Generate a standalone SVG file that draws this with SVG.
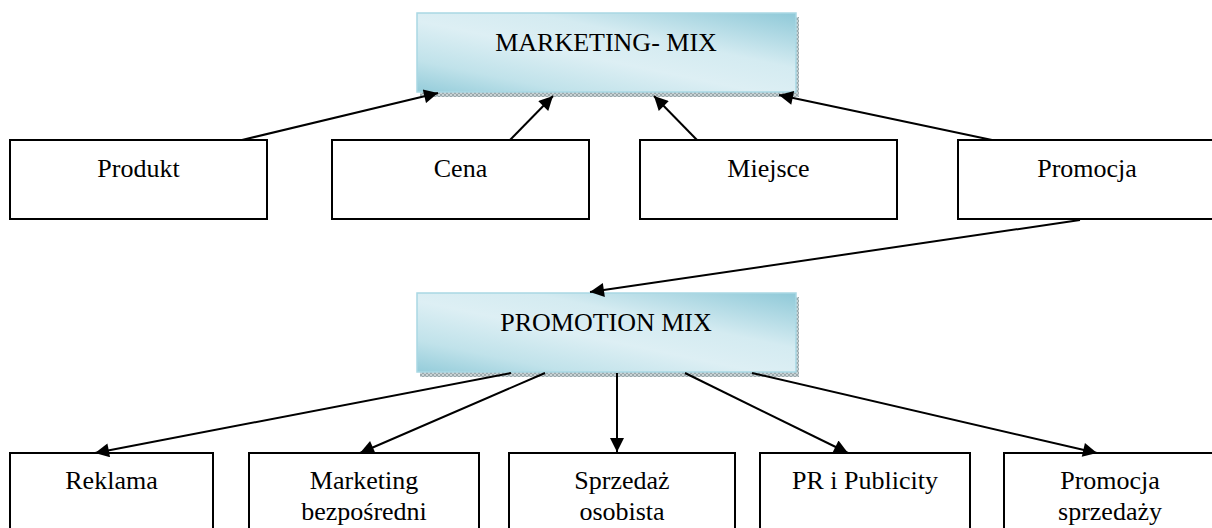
<svg xmlns="http://www.w3.org/2000/svg" width="1212" height="528" viewBox="0 0 1212 528">
<style>
.box{fill:#fff;stroke:#000;stroke-width:2}
.hdr{stroke:#a9d8e4;stroke-width:1.5;fill:url(#grad)}
.shadow{fill:url(#hatch)}
text{font-family:"Liberation Serif","Times New Roman",serif;font-size:26px;fill:#000;text-anchor:middle}
.conn line{stroke:#000;stroke-width:2;marker-end:url(#arr)}
</style>
<defs>
<linearGradient id="grad" x1="0" y1="1" x2="1" y2="0">
<stop offset="0" stop-color="#94ccda"/>
<stop offset="0.2" stop-color="#c0e2ea"/>
<stop offset="0.45" stop-color="#ddeff4"/>
<stop offset="0.65" stop-color="#d4ebf1"/>
<stop offset="1" stop-color="#8fc9d8"/>
</linearGradient>
<pattern id="hatch" width="4" height="4" patternUnits="userSpaceOnUse">
<rect width="4" height="4" fill="#9aa9ad"/>
<rect width="2" height="2" fill="#c9d3d5"/>
<rect x="2" y="2" width="2" height="2" fill="#c9d3d5"/>
</pattern>
<marker id="arr" viewBox="0 0 10 10" refX="10" refY="5" markerWidth="9" markerHeight="7" markerUnits="strokeWidth" orient="auto">
<path d="M0,0 L10,5 L0,10 z" fill="#000"/>
</marker>
</defs>
<g id="marketing-mix">
<rect class="shadow" x="420" y="17" width="379" height="80"/>
<rect class="hdr" x="417" y="13" width="379" height="79"/>
<text x="606" y="51">MARKETING- MIX</text>
</g>
<g id="promotion-mix">
<rect class="shadow" x="420" y="297" width="379" height="80"/>
<rect class="hdr" x="417" y="293" width="379" height="79"/>
<text x="606" y="331">PROMOTION MIX</text>
</g>
<g id="produkt"><rect class="box" x="10" y="140" width="257" height="79"/><text x="138.5" y="177">Produkt</text></g>
<g id="cena"><rect class="box" x="332" y="140" width="257" height="79"/><text x="460.5" y="177">Cena</text></g>
<g id="miejsce"><rect class="box" x="640" y="140" width="257" height="79"/><text x="768.5" y="177">Miejsce</text></g>
<g id="promocja"><rect class="box" x="958" y="140" width="258" height="79"/><text x="1087" y="177">Promocja</text></g>
<g id="reklama"><rect class="box" x="10" y="453" width="203" height="90"/><text x="111.5" y="489">Reklama</text></g>
<g id="marketing-bezposredni"><rect class="box" x="249" y="453" width="230" height="90"/><text x="364" y="489">Marketing</text><text x="364" y="520">bezpośredni</text></g>
<g id="sprzedaz-osobista"><rect class="box" x="509" y="453" width="226" height="90"/><text x="622" y="489">Sprzedaż</text><text x="622" y="520">osobista</text></g>
<g id="pr-publicity"><rect class="box" x="760" y="453" width="210" height="90"/><text x="865" y="489">PR i Publicity</text></g>
<g id="promocja-sprzedazy"><rect class="box" x="1004" y="453" width="212" height="90"/><text x="1110" y="489">Promocja</text><text x="1110" y="520">sprzedaży</text></g>
<g class="conn" id="connectors">
<line x1="242" y1="140" x2="438" y2="93"/>
<line x1="510" y1="140" x2="553" y2="96"/>
<line x1="697" y1="140" x2="654" y2="96"/>
<line x1="992" y1="140" x2="779" y2="95"/>
<line x1="1080" y1="220" x2="590" y2="292"/>
<line x1="511" y1="373" x2="95" y2="453"/>
<line x1="545" y1="373" x2="360" y2="453"/>
<line x1="617" y1="373" x2="617" y2="452"/>
<line x1="685" y1="373" x2="848" y2="453"/>
<line x1="752" y1="373" x2="1097" y2="453"/>
</g>
</svg>
